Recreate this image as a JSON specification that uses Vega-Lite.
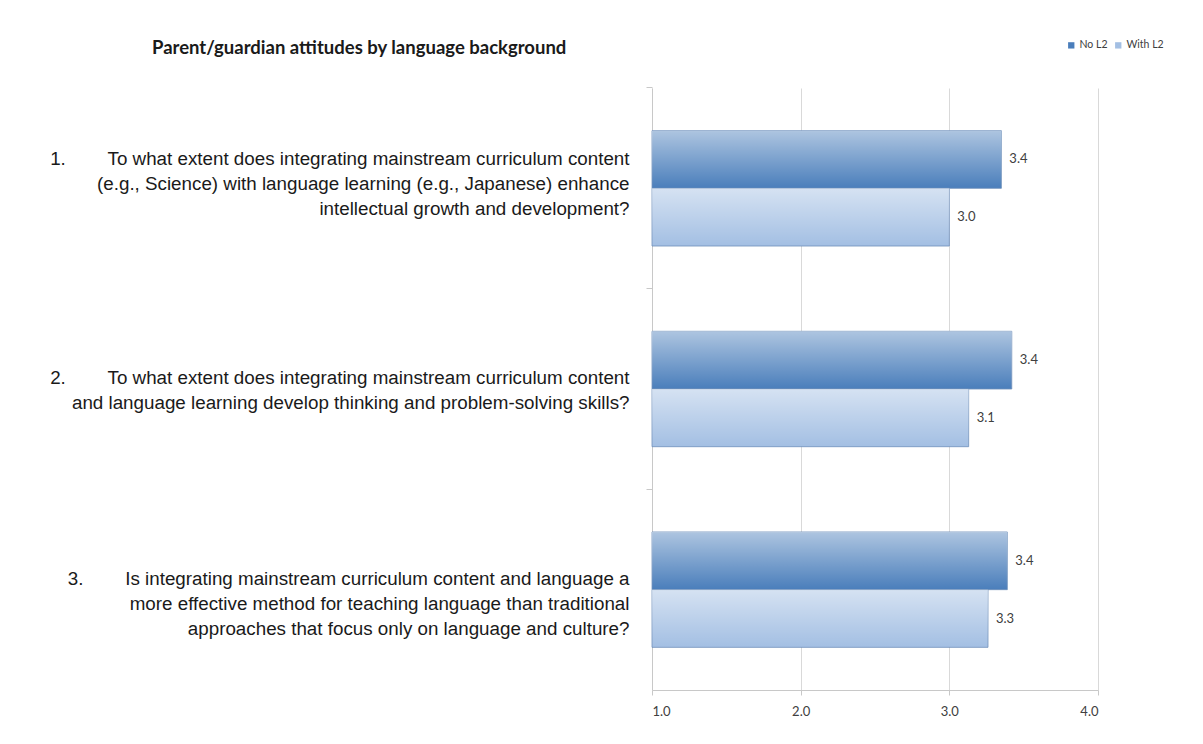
{
  "$schema": "https://vega.github.io/schema/vega-lite/v6.json",
  "width": 446,
  "height": 602,
  "autosize": {"type": "none"},
  "padding": {"left": 652, "top": 88, "right": 105, "bottom": 54},
  "background": "white",
  "title": {
    "text": "Parent/guardian attitudes by language background",
    "anchor": "start",
    "frame": "group",
    "dx": -500,
    "dy": 51,
    "offset": 34,
    "font": "Lato",
    "fontSize": 18.5,
    "fontWeight": "bold",
    "color": "#1a1a1a"
  },
  "data": {
    "values": [
      {"qnum": 1, "question": "1.\u00a0\u00a0\u00a0\u00a0\u00a0\u00a0\u00a0\u00a0To what extent does integrating mainstream curriculum content|(e.g., Science) with language learning (e.g., Japanese) enhance|intellectual growth and development?", "series": "No L2", "value": 3.35},
      {"qnum": 1, "question": "1.\u00a0\u00a0\u00a0\u00a0\u00a0\u00a0\u00a0\u00a0To what extent does integrating mainstream curriculum content|(e.g., Science) with language learning (e.g., Japanese) enhance|intellectual growth and development?", "series": "With L2", "value": 3.0},
      {"qnum": 2, "question": "2.\u00a0\u00a0\u00a0\u00a0\u00a0\u00a0\u00a0\u00a0To what extent does integrating mainstream curriculum content|and language learning develop thinking and problem-solving skills?", "series": "No L2", "value": 3.42},
      {"qnum": 2, "question": "2.\u00a0\u00a0\u00a0\u00a0\u00a0\u00a0\u00a0\u00a0To what extent does integrating mainstream curriculum content|and language learning develop thinking and problem-solving skills?", "series": "With L2", "value": 3.13},
      {"qnum": 3, "question": "3.\u00a0\u00a0\u00a0\u00a0\u00a0\u00a0\u00a0\u00a0Is integrating mainstream curriculum content and language a|more effective method for teaching language than traditional|approaches that focus only on language and culture?", "series": "No L2", "value": 3.39},
      {"qnum": 3, "question": "3.\u00a0\u00a0\u00a0\u00a0\u00a0\u00a0\u00a0\u00a0Is integrating mainstream curriculum content and language a|more effective method for teaching language than traditional|approaches that focus only on language and culture?", "series": "With L2", "value": 3.26}
    ]
  },
  "encoding": {
    "y": {
      "field": "question",
      "type": "nominal",
      "sort": {"field": "qnum"},
      "scale": {"paddingInner": 0.425, "paddingOuter": 0.2125},
      "axis": {
        "title": null,
        "labelExpr": "split(datum.label, '|')",
        "labelFont": "Liberation Sans",
        "labelFontSize": 18.8,
        "labelLineHeight": 25,
        "labelColor": "#1a1a1a",
        "labelLimit": 700,
        "labelAlign": "right",
        "labelPadding": 17,
        "bandPosition": -0.37,
        "labelOffset": {"condition": {"test": "indexof(datum.value, '1.') == 0", "value": -29}, "value": -11},
        "domainColor": "#c8c8c8",
        "tickColor": "#c8c8c8",
        "tickSize": 6,
        "grid": false
      }
    },
    "yOffset": {"field": "series", "type": "nominal", "sort": ["No L2", "With L2"], "scale": {"paddingInner": 0, "paddingOuter": 0}},
    "x": {
      "field": "value",
      "type": "quantitative",
      "scale": {"domain": [1, 4], "zero": false, "nice": false},
      "axis": {
        "title": null,
        "values": [1, 2, 3, 4],
        "format": ".1f",
        "labelFont": "Lato",
        "labelFontSize": 13,
        "labelColor": "#404040",
        "labelPadding": 10,
        "domainColor": "#c8c8c8",
        "tickColor": "#c8c8c8",
        "tickSize": 5,
        "gridColor": "#d9d9d9",
        "grid": true
      }
    }
  },
  "layer": [
    {
      "mark": {"type": "bar", "strokeWidth": 0.8, "stroke": "#6e8fba"},
      "encoding": {
        "x2": {"datum": 1},
        "color": {
          "field": "series",
          "type": "nominal",
          "sort": ["No L2", "With L2"],
          "scale": {"domain": ["No L2", "With L2"], "range": ["#4a7ebb", "#a3bfe3"]},
          "legend": {
            "title": null,
            "orient": "none",
            "legendX": 414,
            "legendY": -48,
            "direction": "horizontal",
            "symbolType": "square",
            "symbolSize": 40,
            "symbolStrokeWidth": 0,
            "columnPadding": 5,
            "labelOffset": 3,
            "labelFont": "Lato",
            "labelFontSize": 10.5,
            "labelColor": "#404040"
          }
        }
      }
    },
    {
      "mark": {
        "type": "bar",
        "fill": {
          "gradient": "linear",
          "x1": 0, "y1": 0, "x2": 0, "y2": 1,
          "stops": [
            {"offset": 0, "color": "rgba(255,255,255,0.55)"},
            {"offset": 1, "color": "rgba(255,255,255,0)"}
          ]
        }
      },
      "encoding": {"x2": {"datum": 1}}
    },
    {
      "mark": {"type": "text", "align": "left", "dx": 8, "font": "Lato", "fontSize": 13, "color": "#404040"},
      "encoding": {"text": {"field": "value", "type": "quantitative", "format": ".1f"}}
    }
  ],
  "config": {"view": {"stroke": null}}
}
